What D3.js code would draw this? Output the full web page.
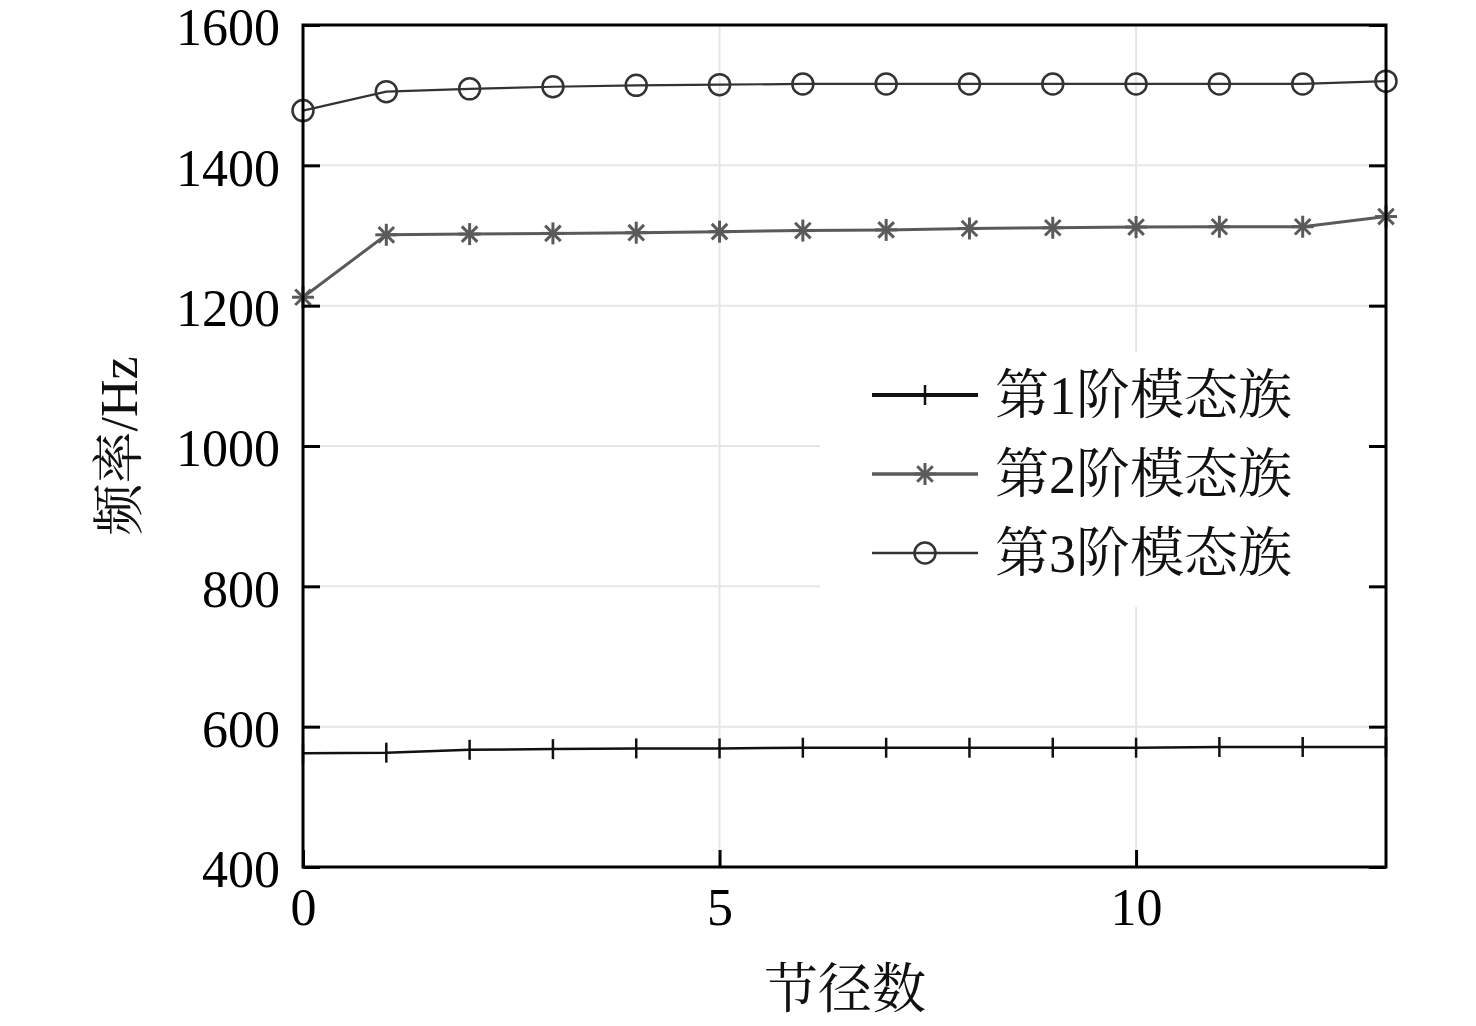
<!DOCTYPE html>
<html><head><meta charset="utf-8">
<script src="https://cdn.jsdelivr.net/npm/d3@7"></script>
<style>body{margin:0;background:#fff}</style>
</head><body>
<svg id="c" width="1476" height="1026"></svg>
<script>
const nodes = [0,1,2,3,4,5,6,7,8,9,10,11,12,13];
const mode1 = [562,563,567,568,569,569,570,570,570,570,570,571,571,571];
const mode2 = [1212,1301,1302,1303,1304,1305.5,1307,1308,1310,1311,1312,1312.5,1312.5,1327];
const mode3 = [1478,1505,1509,1512,1514,1515,1516,1516,1516,1516,1516,1516,1516,1520];
const seriesNames = ["第1阶模态族","第2阶模态族","第3阶模态族"];
const yTicks = [400,600,800,1000,1200,1400,1600];
const xTicks = [0,5,10];
const xLabel = "节径数";
const yLabel = "频率/Hz";

const svg = d3.select("#c");
const L=303, R=1386, T=25, B=867;
const x = d3.scaleLinear().domain([0,13]).range([L,R]);
const y = d3.scaleLinear().domain([400,1600]).range([B,T]);
const serif = "'Liberation Serif','Times New Roman','Noto Serif CJK SC','Noto Sans CJK SC',serif";

// grid
const g = svg.append("g");
g.selectAll(".gy").data(yTicks.filter(d=>d>400&&d<1600)).enter().append("line")
  .attr("x1",L).attr("x2",R).attr("y1",d=>y(d)).attr("y2",d=>y(d))
  .attr("stroke","#e6e6e6").attr("stroke-width",2);
g.selectAll(".gx").data(xTicks.filter(d=>d>0)).enter().append("line")
  .attr("y1",T).attr("y2",B).attr("x1",d=>x(d)).attr("x2",d=>x(d))
  .attr("stroke","#e6e6e6").attr("stroke-width",2);

// lines
const data = [mode1, mode2, mode3];
const colors = ["#111","#5a5a5a","#333"];
const widths = [2.5,3,2.2];
const line = d3.line().x((d,i)=>x(nodes[i])).y(d=>y(d));
data.forEach((s,k)=>{
  svg.append("path").datum(s).attr("d",line).attr("fill","none")
    .attr("stroke",colors[k]).attr("stroke-width",widths[k]);
});

function plus(sel, cx, cy){
  sel.append("line").attr("x1",cx).attr("x2",cx).attr("y1",cy-10).attr("y2",cy+10)
    .attr("stroke","#111").attr("stroke-width",2.5);
}
function star(sel, cx, cy){
  const r=11;
  [0,45,90,135].forEach(a=>{
    const rad=a*Math.PI/180;
    sel.append("line").attr("x1",cx-r*Math.cos(rad)).attr("x2",cx+r*Math.cos(rad))
      .attr("y1",cy-r*Math.sin(rad)).attr("y2",cy+r*Math.sin(rad))
      .attr("stroke","#5a5a5a").attr("stroke-width",3);
  });
}
function circ(sel, cx, cy){
  sel.append("circle").attr("cx",cx).attr("cy",cy).attr("r",10.5)
    .attr("fill","none").attr("stroke","#333").attr("stroke-width",2.5);
}
const mk = svg.append("g");
mode1.forEach((v,i)=>plus(mk,x(nodes[i]),y(v)));
mode2.forEach((v,i)=>star(mk,x(nodes[i]),y(v)));
mode3.forEach((v,i)=>circ(mk,x(nodes[i]),y(v)));

// legend
const lg = svg.append("g");
lg.append("rect").attr("x",820).attr("y",352).attr("width",R-820-2).attr("height",255).attr("fill","#fff");
const markerFns=[plus,star,circ];
seriesNames.forEach((n,k)=>{
  const ly = 395 + k*79;
  lg.append("line").attr("x1",872).attr("x2",978).attr("y1",ly).attr("y2",ly)
    .attr("stroke",colors[k]).attr("stroke-width",k===0?4:widths[k]+0.5);
  markerFns[k](lg,925,ly);
  lg.append("text").attr("x",995).attr("y",ly+19).text(n)
    .attr("font-family",serif).attr("font-size",54).attr("fill","#111");
});

// frame
svg.append("rect").attr("x",L).attr("y",T).attr("width",R-L).attr("height",B-T)
  .attr("fill","none").attr("stroke","#000").attr("stroke-width",3);

// ticks
const fmt = d3.format("d");
const yAxisL = d3.axisLeft(y).tickValues(yTicks).tickFormat(fmt).tickSizeInner(-17).tickSizeOuter(0).tickPadding(23);
const ga = svg.append("g").attr("transform",`translate(${L},0)`).call(yAxisL);
ga.select(".domain").remove();
ga.selectAll(".tick line").attr("stroke","#000").attr("stroke-width",3);
ga.selectAll(".tick text").attr("font-family",serif).attr("font-size",52).attr("fill","#000").attr("dy","0.38em");

const yAxisR = d3.axisRight(y).tickValues(yTicks).tickSizeInner(-17).tickSizeOuter(0).tickFormat("");
const gr = svg.append("g").attr("transform",`translate(${R},0)`).call(yAxisR);
gr.select(".domain").remove();
gr.selectAll(".tick line").attr("stroke","#000").attr("stroke-width",3);

const xAxis = d3.axisBottom(x).tickValues(xTicks).tickFormat(fmt).tickSizeInner(-17).tickSizeOuter(0).tickPadding(53);
const gx = svg.append("g").attr("transform",`translate(0,${B})`).call(xAxis);
gx.select(".domain").remove();
gx.selectAll(".tick line").attr("stroke","#000").attr("stroke-width",3);
gx.selectAll(".tick text").attr("font-family",serif).attr("font-size",52).attr("fill","#000").attr("dy","0.1em");

svg.append("text").attr("x",845).attr("y",1008).attr("text-anchor","middle")
  .attr("font-family",serif).attr("font-size",54).attr("fill","#111").text(xLabel);
svg.append("text").attr("transform","translate(137,446) rotate(-90)").attr("text-anchor","middle")
  .attr("font-family",serif).attr("font-size",52).attr("fill","#111").text(yLabel);
</script>
</body></html>
